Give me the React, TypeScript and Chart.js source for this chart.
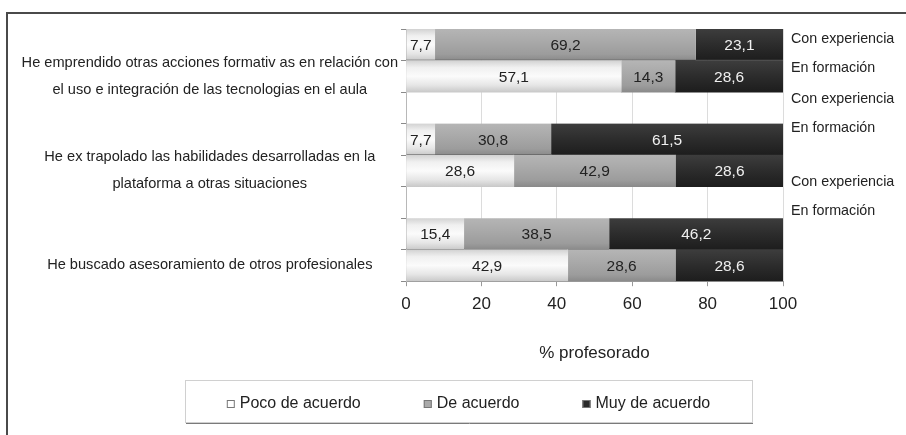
import React, { useEffect, useRef } from 'react';
import { Chart, registerables } from 'chart.js';

Chart.register(...registerables);

// ---------- data ----------
const groupLabels: string[][] = [
  ['He emprendido otras acciones formativ as en relación con', 'el uso e integración de las tecnologias en el aula'],
  ['He ex trapolado las habilidades desarrolladas en la', 'plataforma a otras situaciones'],
  ['He buscado asesoramiento de otros profesionales'],
];
const rightLabels = ['Con experiencia', 'En formación', 'Con experiencia', 'En formación', 'Con experiencia', 'En formación'];
const seriesNames = ['Poco de acuerdo', 'De acuerdo', 'Muy de acuerdo'];

// "Con experiencia" row of each group, then "En formación" row
const pocoExp = [7.7, 7.7, 15.4];
const pocoForm = [57.1, 28.6, 42.9];
const deExp = [69.2, 30.8, 38.5];
const deForm = [14.3, 42.9, 28.6];
const muyExp = [23.1, 61.5, 46.2];
const muyForm = [28.6, 28.6, 28.6];

const xTicks = [0, 20, 40, 60, 80, 100];
const xTitle = '% profesorado';

// ---------- layout / style constants ----------
const W = 906;
const H = 435;
const FONT = '"Liberation Sans", Arial, sans-serif';
const RIGHT_LABEL_POS = [4, 15.5, 27.9, 39.4, 60.6, 72.1]; // % of plot height

// rows: exp, form, (blank) ...
function buildRows(exp: number[], form: number[]): (number | null)[] {
  const out: (number | null)[] = [];
  exp.forEach((v, g) => {
    out.push(v, form[g]);
    if (g < exp.length - 1) out.push(null);
  });
  return out;
}
function buildLabels(): (string | string[])[] {
  const out: (string | string[])[] = [];
  groupLabels.forEach((lab, g) => {
    out.push('', lab);
    if (g < groupLabels.length - 1) out.push('');
  });
  return out;
}

const gradStops: [number, string][][] = [
  [[0, '#d2d2d2'], [0.22, '#f0f0f0'], [0.5, '#fbfbfb'], [0.78, '#e6e6e6'], [1, '#c9c9c9']],
  [[0, '#b5b5b5'], [0.4, '#a9a9a9'], [0.8, '#9c9c9c'], [1, '#8a8a8a']],
  [[0, '#3d3d3d'], [0.5, '#2c2c2c'], [1, '#1d1d1d']],
];
const legendFill = ['#ffffff', '#aaaaaa', '#2a2a2a'];

function makeBg(stops: [number, string][]) {
  return (ctx: any) => {
    const chart = ctx.chart;
    const ys = chart.scales?.y;
    if (!ys || ctx.type !== 'data' || !ys.ticks || !ys.ticks.length) return stops[1][1];
    const yc = ys.getPixelForValue(ctx.dataIndex);
    const half = ys.height / ys.ticks.length / 2;
    const g = chart.ctx.createLinearGradient(0, yc - half, 0, yc + half);
    stops.forEach(([o, c]) => g.addColorStop(o, c));
    return g;
  };
}

const fmt = (v: number) => v.toFixed(1).replace('.', ',');

const dataLabelPlugin = {
  id: 'dataLabels',
  afterDatasetsDraw(chart: any) {
    const ctx = chart.ctx;
    ctx.save();
    ctx.font = `15.5px ${FONT}`;
    ctx.textAlign = 'center';
    ctx.textBaseline = 'middle';
    chart.data.datasets.forEach((ds: any, di: number) => {
      const meta = chart.getDatasetMeta(di);
      meta.data.forEach((el: any, i: number) => {
        const v = ds.data[i];
        if (v == null) return;
        ctx.fillStyle = di === 2 ? '#f0f0f0' : '#222222';
        ctx.fillText(fmt(v), (el.x + el.base) / 2, el.y + 1);
      });
    });
    ctx.restore();
  },
};

const legendPlugin = {
  id: 'boxLegend',
  afterDraw(chart: any) {
    const ctx = chart.ctx;
    ctx.save();
    const bx = 185, by = 380, bw = 567, bh = 42;
    ctx.strokeStyle = '#d0d0d0';
    ctx.lineWidth = 1;
    ctx.strokeRect(bx + 0.5, by + 0.5, bw, bh);
    ctx.strokeStyle = '#7a7a7a';
    ctx.beginPath();
    ctx.moveTo(bx + 1, by + bh + 1.5);
    ctx.lineTo(bx + bw + 1, by + bh + 1.5);
    ctx.stroke();
    ctx.font = `16px ${FONT}`;
    ctx.textBaseline = 'middle';
    ctx.textAlign = 'left';
    const gap = 63, mw = 8, mg = 5;
    const widths = seriesNames.map((n) => mw + mg + ctx.measureText(n).width);
    const total = widths.reduce((a, b) => a + b, 0) + gap * (seriesNames.length - 1);
    let x = bx + bw / 2 - total / 2;
    const cy = by + bh / 2 + 3;
    seriesNames.forEach((n, i) => {
      ctx.fillStyle = legendFill[i];
      ctx.fillRect(x, cy - mw / 2, mw, mw);
      ctx.strokeStyle = '#777';
      ctx.strokeRect(x + 0.5, cy - mw / 2 + 0.5, mw - 1, mw - 1);
      ctx.fillStyle = '#222';
      ctx.fillText(n, x + mw + mg, cy);
      x += widths[i] + gap;
    });
    ctx.restore();
  },
};

export default function App() {
  const ref = useRef<HTMLCanvasElement | null>(null);

  useEffect(() => {
    if (!ref.current) return;
    const series = [buildRows(pocoExp, pocoForm), buildRows(deExp, deForm), buildRows(muyExp, muyForm)];
    const expRows = new Set<number>();
    pocoExp.forEach((_, g) => expRows.add(g * 3));

    const chart = new Chart(ref.current, {
      type: 'bar',
      data: {
        labels: buildLabels() as any,
        datasets: series.map((d, i) => ({
          label: seriesNames[i],
          data: d,
          backgroundColor: makeBg(gradStops[i]) as any,
          borderColor: '#1a1a1a',
          borderWidth: ((ctx: any) =>
            expRows.has(ctx.dataIndex) ? { top: 0, right: 0, bottom: 1, left: 0 } : 0) as any,
          borderSkipped: false,
          categoryPercentage: 1,
          barPercentage: 1,
        })),
      },
      plugins: [dataLabelPlugin, legendPlugin],
      options: {
        indexAxis: 'y',
        responsive: false,
        animation: false,
        devicePixelRatio: 1,
        layout: { padding: { top: 29, left: 0, right: 0, bottom: 71 } },
        plugins: { legend: { display: false }, tooltip: { enabled: false }, title: { display: false } },
        scales: {
          x: {
            type: 'linear',
            stacked: true,
            min: xTicks[0],
            max: xTicks[xTicks.length - 1],
            afterBuildTicks: (axis: any) => {
              axis.ticks = xTicks.map((v) => ({ value: v }));
            },
            ticks: { color: '#222', font: { size: 17, family: FONT }, padding: 8 },
            grid: { color: '#dcdcdc', tickColor: '#999', tickLength: 5 },
            border: { color: '#9a9a9a' },
            title: {
              display: true,
              text: xTitle,
              color: '#222',
              font: { size: 17, family: FONT },
              padding: { top: 21, bottom: 0 },
            },
          },
          y: {
            type: 'category',
            stacked: true,
            position: 'left',
            afterFit: (s: any) => {
              s.width = 406;
            },
            ticks: {
              autoSkip: false,
              crossAlign: 'center',
              padding: 3,
              color: '#222',
              font: { size: 14.6, family: FONT, lineHeight: 1.85 },
            },
            grid: { offset: true, drawOnChartArea: false, drawTicks: true, tickLength: 5, color: '#8a8a8a' },
            border: { color: '#b8b8b8' },
          },
          y2: {
            type: 'linear',
            position: 'right',
            reverse: true,
            offset: false,
            min: 0,
            max: 100,
            afterFit: (s: any) => {
              s.width = W - 783;
            },
            afterBuildTicks: (axis: any) => {
              axis.ticks = RIGHT_LABEL_POS.map((v) => ({ value: v }));
            },
            ticks: {
              autoSkip: false,
              padding: 8,
              color: '#222',
              font: { size: 14.3, family: FONT },
              callback: (_v: any, i: number) => rightLabels[i],
            },
            grid: { display: false, drawTicks: false, tickLength: 0, offset: false },
            border: { display: false },
          },
        },
      } as any,
    });
    return () => chart.destroy();
  }, []);

  return (
    <div style={{ position: 'absolute', left: 0, top: 0, width: W, height: H, background: '#fff', overflow: 'hidden' }}>
      <canvas ref={ref} width={W} height={H} style={{ position: 'absolute', left: 0, top: 0, width: W, height: H }} />
      <div
        style={{
          position: 'absolute',
          left: 6,
          top: 12,
          width: W - 6,
          height: H - 12,
          borderTop: '2px solid #4a4a4a',
          borderLeft: '2px solid #4a4a4a',
          boxSizing: 'border-box',
          pointerEvents: 'none',
        }}
      />
    </div>
  );
}
